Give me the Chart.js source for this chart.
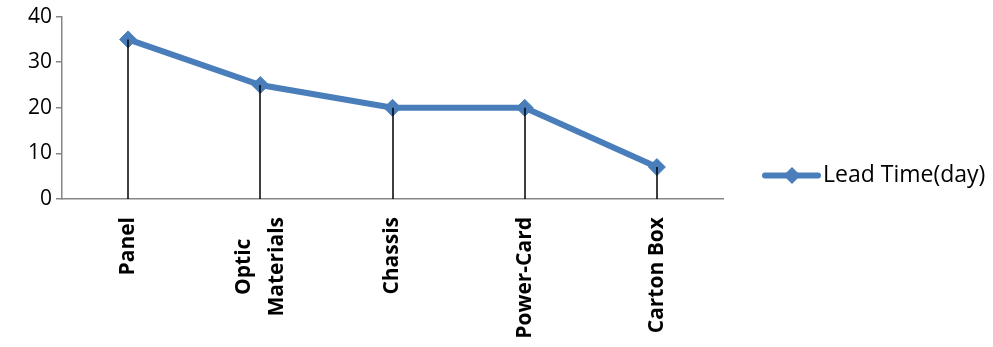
<!DOCTYPE html>
<html>
<head>
<meta charset="utf-8">
<script src="https://cdn.jsdelivr.net/npm/chart.js@4.4.0/dist/chart.umd.min.js"></script>
<style>
  html, body { margin: 0; padding: 0; background: #fff; }
  #wrap { width: 993px; height: 347px; }
</style>
</head>
<body>
<div id="wrap"><canvas id="leadChart" width="993" height="347"></canvas></div>
<script>
// datos
const categorias = ["Panel", ["Optic", "Materials"], "Chassis", "Power-Card", "Carton Box"];
const leadTime = [35, 25, 20, 20, 7];
const yTicks = [0, 10, 20, 30, 40];
const serieNombre = "Lead Time(day)";

const azul = "#4A7EBB";
const fuente = "'Open Sans', sans-serif";

function rombo(c, x, y, r) {
    c.beginPath();
    c.moveTo(x, y - r);
    c.lineTo(x + r, y);
    c.lineTo(x, y + r);
    c.lineTo(x - r, y);
    c.closePath();
    c.fill();
}

// lineas verticales desde cada punto hasta el eje
const dropLines = {
    id: "dropLines",
    afterDatasetsDraw(chart) {
        const { ctx } = chart;
        const y = chart.scales.y;
        const meta = chart.getDatasetMeta(0);
        ctx.save();
        ctx.strokeStyle = "#000";
        ctx.lineWidth = 1.5;
        meta.data.forEach(pt => {
            ctx.beginPath();
            ctx.moveTo(Math.round(pt.x), pt.y);
            ctx.lineTo(Math.round(pt.x), y.getPixelForValue(0));
            ctx.stroke();
        });
        ctx.restore();
    }
};

// etiquetas del eje x giradas, con las lineas centradas entre si
const etiquetasX = {
    id: "etiquetasX",
    afterDraw(chart) {
        const { ctx } = chart;
        const x = chart.scales.x;
        const pad = 18;
        const paso = 33;
        ctx.save();
        ctx.font = "bold 21px " + fuente;
        ctx.fillStyle = "#000";
        ctx.textAlign = "center";
        ctx.textBaseline = "middle";
        categorias.forEach((cat, i) => {
            const lineas = Array.isArray(cat) ? cat : [cat];
            const maxW = Math.max(...lineas.map(l => ctx.measureText(l).width));
            ctx.save();
            ctx.translate(x.getPixelForValue(i), x.top);
            ctx.rotate(-Math.PI / 2);
            lineas.forEach((l, j) => {
                ctx.fillText(l, -(pad + maxW / 2), (j - (lineas.length - 1) / 2) * paso);
            });
            ctx.restore();
        });
        ctx.restore();
    }
};

// leyenda a la derecha: linea + rombo + texto
const leyenda = {
    id: "leyenda",
    afterDraw(chart) {
        const { ctx, chartArea } = chart;
        const ds = chart.data.datasets[0];
        const x0 = chartArea.right + 42;
        const yc = chart.height / 2 + 2;
        ctx.save();
        ctx.strokeStyle = ds.borderColor;
        ctx.lineWidth = 6;
        ctx.lineCap = "round";
        ctx.beginPath();
        ctx.moveTo(x0, yc);
        ctx.lineTo(x0 + 53, yc);
        ctx.stroke();
        ctx.fillStyle = ds.borderColor;
        rombo(ctx, x0 + 27, yc, 8.5);
        ctx.fillStyle = "#000";
        ctx.font = "23px " + fuente;
        ctx.textBaseline = "middle";
        ctx.fillText(ds.label, x0 + 58, yc);
        ctx.restore();
    }
};

const ctx = document.getElementById("leadChart").getContext("2d");

new Chart(ctx, {
    type: "line",
    data: {
        labels: categorias,
        datasets: [{
            label: serieNombre,
            data: leadTime,
            borderColor: azul,
            backgroundColor: azul,
            borderWidth: 6,
            pointStyle: "rectRot",
            pointRadius: 8.5,
            pointHoverRadius: 8.5,
            pointBackgroundColor: azul,
            pointBorderColor: azul,
            pointBorderWidth: 1,
            tension: 0
        }]
    },
    options: {
        responsive: false,
        animation: false,
        layout: { padding: { top: 8, right: 270, left: 0, bottom: 0 } },
        plugins: {
            tooltip: { enabled: false },
            legend: { display: false }
        },
        scales: {
            x: {
                offset: true,
                afterFit: s => { s.height = 148; },
                grid: { drawOnChartArea: false, drawTicks: false },
                border: { color: "#868686", width: 1.5 },
                ticks: { display: false }
            },
            y: {
                min: 0,
                max: 40,
                afterFit: s => { s.width = 62; },
                afterBuildTicks: s => { s.ticks = yTicks.map(v => ({ value: v })); },
                grid: { drawOnChartArea: false, drawTicks: true, tickLength: 6, color: "#868686", lineWidth: 1.5 },
                border: { color: "#868686", width: 1.5 },
                ticks: {
                    padding: 4,
                    color: "#000",
                    font: { family: fuente, size: 21 }
                }
            }
        }
    },
    plugins: [dropLines, etiquetasX, leyenda]
});
</script>
</body>
</html>
